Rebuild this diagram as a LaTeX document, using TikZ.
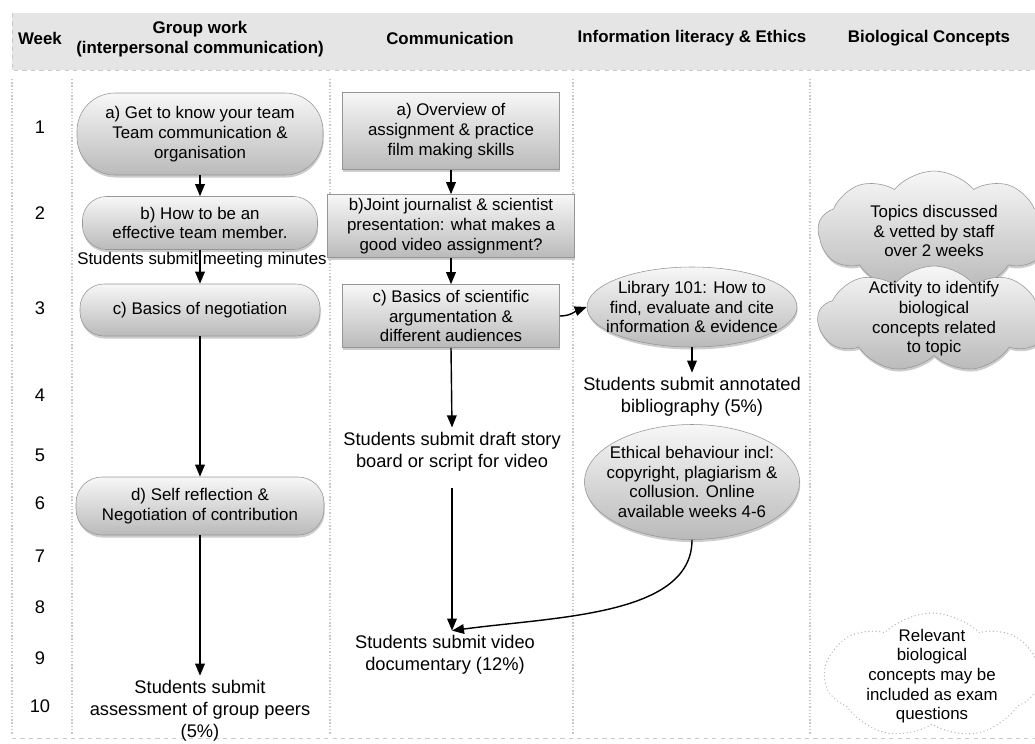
\documentclass[tikz,border=0pt]{standalone}
\usepackage{fontspec}
\setmainfont{Liberation Sans}
\usetikzlibrary{shapes.geometric,shapes.symbols,shadows,arrows.meta}
\definecolor{headgray}{RGB}{229,229,229}
\definecolor{linegray}{RGB}{200,200,200}
\definecolor{edgegray}{RGB}{150,150,150}
\definecolor{shadetop}{RGB}{247,247,247}
\definecolor{shadebot}{RGB}{186,186,186}

\begin{document}
\begin{tikzpicture}[
    font=\fontsize{12}{14}\selectfont,
    every node/.style={align=center},
    headtext/.style={font=\fontsize{12}{14}\selectfont\bfseries},
    weeknum/.style={font=\fontsize{13}{15}\selectfont},
    sunk/.style={draw=edgegray,top color=shadetop,bottom color=shadebot,
      drop shadow={shadow xshift=.5pt,shadow yshift=-1.8pt,opacity=.4}},
    pill/.style={sunk,rectangle,rounded corners=#1},
    pill/.default=.6cm,
    panel/.style={sunk,rectangle,inner sep=2pt},
    oval/.style={sunk,ellipse,inner xsep=-.5cm,inner ysep=0pt},
    puff/.style={sunk,cloud,cloud puffs=9,cloud puff arc=100,cloud ignores aspect,inner sep=-.3cm},
    ghost/.style={cloud,cloud puffs=7,cloud puff arc=90,cloud ignores aspect,inner sep=-.3cm,
      draw=edgegray!70,line width=1pt,line cap=round,dash pattern=on 0pt off 2.6pt},
    submit/.style={font=\fontsize{13}{15.5}\selectfont},
    flow/.style={-{Triangle[length=3mm,width=2.4mm]},line width=1pt},
    coldiv/.style={linegray,line width=1.6pt,dash pattern=on 1pt off 1.3pt}
  ]
      \useasboundingbox (0,0) rectangle (25.875,18.575);
      % header band and column rules
      \fill[headgray] (.3,16.825) rectangle (25.875,18.25);
      \draw[linegray,dashed] (.3,18.25) -- (.3,16.825) -- (25.875,16.825);
      \foreach \x in {.3,1.8,8.25,14.325,20.25}
        \draw[coldiv] (\x,16.6) -- (\x,.2);
      \draw[linegray,dashed] (.3,.125) -- (25.875,.125);

      \node[headtext] (hweek) at (1,17.625) {Week};
      \node[headtext] (hgroup) at (5,17.6) {Group work\\(interpersonal communication)};
      \node[headtext] (hcomm) at (11.25,17.625) {Communication};
      \node[headtext] (hinfo) at (17.3,17.625) {Information literacy \& Ethics};
      \node[headtext] (hbio) at (23.225,17.625) {Biological Concepts};

      \foreach \n/\y in {1/15.4,2/13.25,3/10.875,4/8.7,5/7.2,6/6.0,7/4.675,8/3.4,9/2.125,10/.925}
        \node[weeknum] (wk\n) at (1,\y) {\n};

      % group work
      \node[pill=.95cm,minimum width=6.15cm,minimum height=2.05cm] (ga) at (5,15.225) {a) Get to know your team\\Team communication \&\\organisation};
      \node[pill,minimum width=5.875cm,minimum height=1.325cm] (gb) at (5,13) {b) How to be an\\effective team member.};
      \node (gmin) at (5.05,12.075) {Students submit meeting minutes};
      \node[pill,minimum width=6cm,minimum height=1.3cm] (gc) at (5,10.825) {c) Basics of negotiation};
      \node[pill=.65cm,minimum width=6.2cm,minimum height=1.45cm] (gd) at (5,5.925) {d) Self reflection \&\\Negotiation of contribution};
      \node[submit] (gpeer) at (5,.8) {Students submit\\assessment of group peers\\(5\%)};

      % communication
      \node[panel,minimum width=5.425cm,minimum height=1.925cm] (ca) at (11.275,15.3) {a) Overview of\\assignment \& practice\\film making skills};
      \node[panel,minimum width=6.175cm,minimum height=1.575cm] (cb) at (11.275,12.925) {b)Joint journalist \& scientist\\presentation: what makes a\\good video assignment?};
      \node[panel,minimum width=5.425cm,minimum height=1.575cm] (cc) at (11.275,10.675) {c) Basics of scientific\\argumentation \&\\different audiences};
      \node[submit] (cdraft) at (11.3,7.28) {Students submit draft story\\board or script for video};
      \node[submit] (cvideo) at (11.125,2.2) {Students submit video\\documentary (12\%)};

      % information literacy
      \node[oval,minimum width=5.25cm,minimum height=2cm] (ilib) at (17.3,10.9) {Library 101: How to\\find, evaluate and cite\\information \& evidence};
      \node[submit] (ibib) at (17.3,8.65) {Students submit annotated\\bibliography (5\%)};
      \node[oval,minimum width=5.375cm,minimum height=2.875cm] (ieth) at (17.3,6.525) {Ethical behaviour incl:\\copyright, plagiarism \&\\collusion. Online\\available weeks 4-6};

      % biological concepts
      \node[puff,minimum width=5.8cm,minimum height=3cm] (btopic) at (23.35,12.8) {Topics discussed\\\& vetted by staff\\over 2 weeks};
      \node[puff,minimum width=5.8cm,minimum height=2.65cm] (bact) at (23.35,10.6) {Activity to identify\\biological\\concepts related\\to topic};
      \node[ghost,minimum width=5.35cm,minimum height=3.15cm] (bexam) at (23.3,1.675) {Relevant\\biological\\concepts may be\\included as exam\\questions};

      \draw[flow] (ga.south) -- (gb.north);
      \draw[flow] (gb.south) -- (gc.north);
      \draw[flow] (gc.south) -- (gd.north);
      \draw[flow] (gd.south) -- (gpeer.north);
      \draw[flow] (ca.south) -- (cb.north);
      \draw[flow] (cb.south) -- (cc.north);
      \draw[flow] (cc.south) -- (cdraft.north);
      \draw[flow,shorten <=.3cm] (cdraft.south) -- (cdraft.south |- cvideo.north);
      \draw[flow] (cc.east) to[out=0,in=200] (ilib.west);
      \draw[flow] (ilib.south) -- (ibib.north);
      \draw[flow] (ieth.south) .. controls +(0,-1.9) and +(2.6,.35) .. (cdraft.south |- cvideo.north);
\end{tikzpicture}
\end{document}
